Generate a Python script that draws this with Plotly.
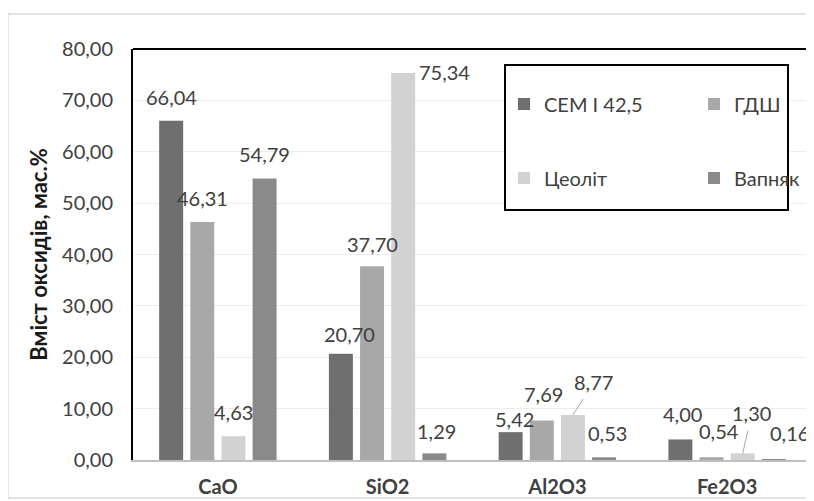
import plotly.graph_objects as go

categories = ["CaO", "SiO2", "Al2O3", "Fe2O3"]
series_names = ["CEM I 42,5", "ГДШ", "Цеоліт", "Вапняк"]
cem = [66.04, 20.70, 5.42, 4.00]
gdsh = [46.31, 37.70, 7.69, 0.54]
zeolite = [4.63, 75.34, 8.77, 1.30]
limestone = [54.79, 1.29, 0.53, 0.16]
y_ticks = [0, 10, 20, 30, 40, 50, 60, 70, 80]

series_values = [cem, gdsh, zeolite, limestone]
colors = ["#6f6f6f", "#a8a8a8", "#d2d2d2", "#8a8a8a"]

# label offsets (pixels) relative to bar top centre: (dx, dy up)
label_offsets = [
    [(0, 24), (0, 24), (0, 24), (0, 25)],
    [(9, 20), (0, 22), (41, 1), (2, 22)],
    [(4, 13), (2, 26), (21, 33), (3, 24)],
    [(2, 25), (7, 26), (9, 40), (16, 26)],
]
leader = {(2, 2), (3, 2)}

bargap = 0.266
step = (1 - bargap) / 4

def fmt(v):
    return f"{v:.2f}".replace(".", ",")

# the page body adds an 8px offset; work in screen pixels and convert
OFF = 8
W, H = 814, 501
ml = 133 - OFF
mt = 49 - OFF
mb = H - (460 - OFF)
mr = W - (812 - OFF)
pw = W - ml - mr
ph = H - mt - mb

def px_x(s):
    return (s - OFF - ml) / pw

def px_y(s):
    return (H - mb - (s - OFF)) / ph

FONT = "Lato"
TXT = "#404040"

fig = go.Figure()
for j, (name, vals) in enumerate(zip(series_names, series_values)):
    fig.add_trace(go.Bar(
        x=categories, y=vals, name=name,
        marker=dict(color=colors[j], line=dict(width=0)),
        legend="legend" if j < 2 else "legend2",
    ))

annotations = []
for i in range(len(categories)):
    for j, vals in enumerate(series_values):
        xpos = i + (j - 1.5) * step
        dx, dy = label_offsets[i][j]
        txt = fmt(vals[i])
        if (i, j) in leader:
            annotations.append(dict(
                x=xpos, y=vals[i], xref="x", yref="y", text=txt,
                showarrow=True, arrowhead=0, arrowwidth=1, arrowcolor="#a6a6a6",
                ax=dx, ay=-dy, standoff=0, startstandoff=4,
                font=dict(family=FONT, size=20, color=TXT),
            ))
        else:
            annotations.append(dict(
                x=xpos, y=vals[i], xref="x", yref="y", text=txt,
                showarrow=False, xshift=dx, yshift=dy,
                font=dict(family=FONT, size=20, color=TXT),
            ))

shapes = [
    # outer chart border
    dict(type="rect", xref="paper", yref="paper",
         x0=px_x(8), x1=px_x(830), y0=px_y(498), y1=px_y(14),
         line=dict(color="#d9d9d9", width=1.5), layer="below"),
    # top frame line of plot area
    dict(type="line", xref="paper", yref="paper",
         x0=px_x(133), x1=px_x(830), y0=1, y1=1,
         line=dict(color="#000000", width=2)),
    # legend box
    dict(type="rect", xref="paper", yref="paper",
         x0=px_x(505), x1=px_x(788), y0=px_y(210), y1=px_y(65),
         line=dict(color="#000000", width=2), fillcolor="white", layer="above"),
]

legend_common = dict(
    orientation="h", xanchor="left", yanchor="middle",
    xref="container", yref="container",
    font=dict(family=FONT, size=20, color=TXT),
    bgcolor="rgba(0,0,0,0)", borderwidth=0,
    entrywidth=145, entrywidthmode="pixels", itemclick=False,
    itemwidth=30,
)

fig.update_layout(
    width=W, height=H,
    margin=dict(l=ml, r=mr, t=mt, b=mb, autoexpand=False),
    paper_bgcolor="white", plot_bgcolor="white",
    barmode="group", bargap=bargap, bargroupgap=0.23,
    font=dict(family=FONT, color=TXT),
    showlegend=True,
    legend=dict(x=(504 - OFF) / W, y=1 - (104 - OFF) / H, **legend_common),
    legend2=dict(x=(504 - OFF) / W, y=1 - (178 - OFF) / H, **legend_common),
    xaxis=dict(
        type="category", showline=True, linecolor="#bfbfbf", linewidth=1.5,
        ticks="", tickfont=dict(family=FONT, size=20, color=TXT, weight="bold"),
        ticklabelstandoff=8, showgrid=False, automargin=False,
    ),
    yaxis=dict(
        range=[0, 80], tickvals=y_ticks,
        ticktext=[fmt(v) for v in y_ticks],
        showline=True, linecolor="#000000", linewidth=2,
        showgrid=True, gridcolor="#ececec", gridwidth=1, zeroline=False,
        tickfont=dict(family=FONT, size=20, color=TXT),
        ticks="", ticklabelstandoff=14, automargin=False,
        title=dict(text="Вміст оксидів, мас.%", standoff=8,
                   font=dict(family=FONT, size=22, color="#1a1a1a", weight="bold")),
    ),
    annotations=annotations,
    shapes=shapes,
)

fig.write_html("out.html")
